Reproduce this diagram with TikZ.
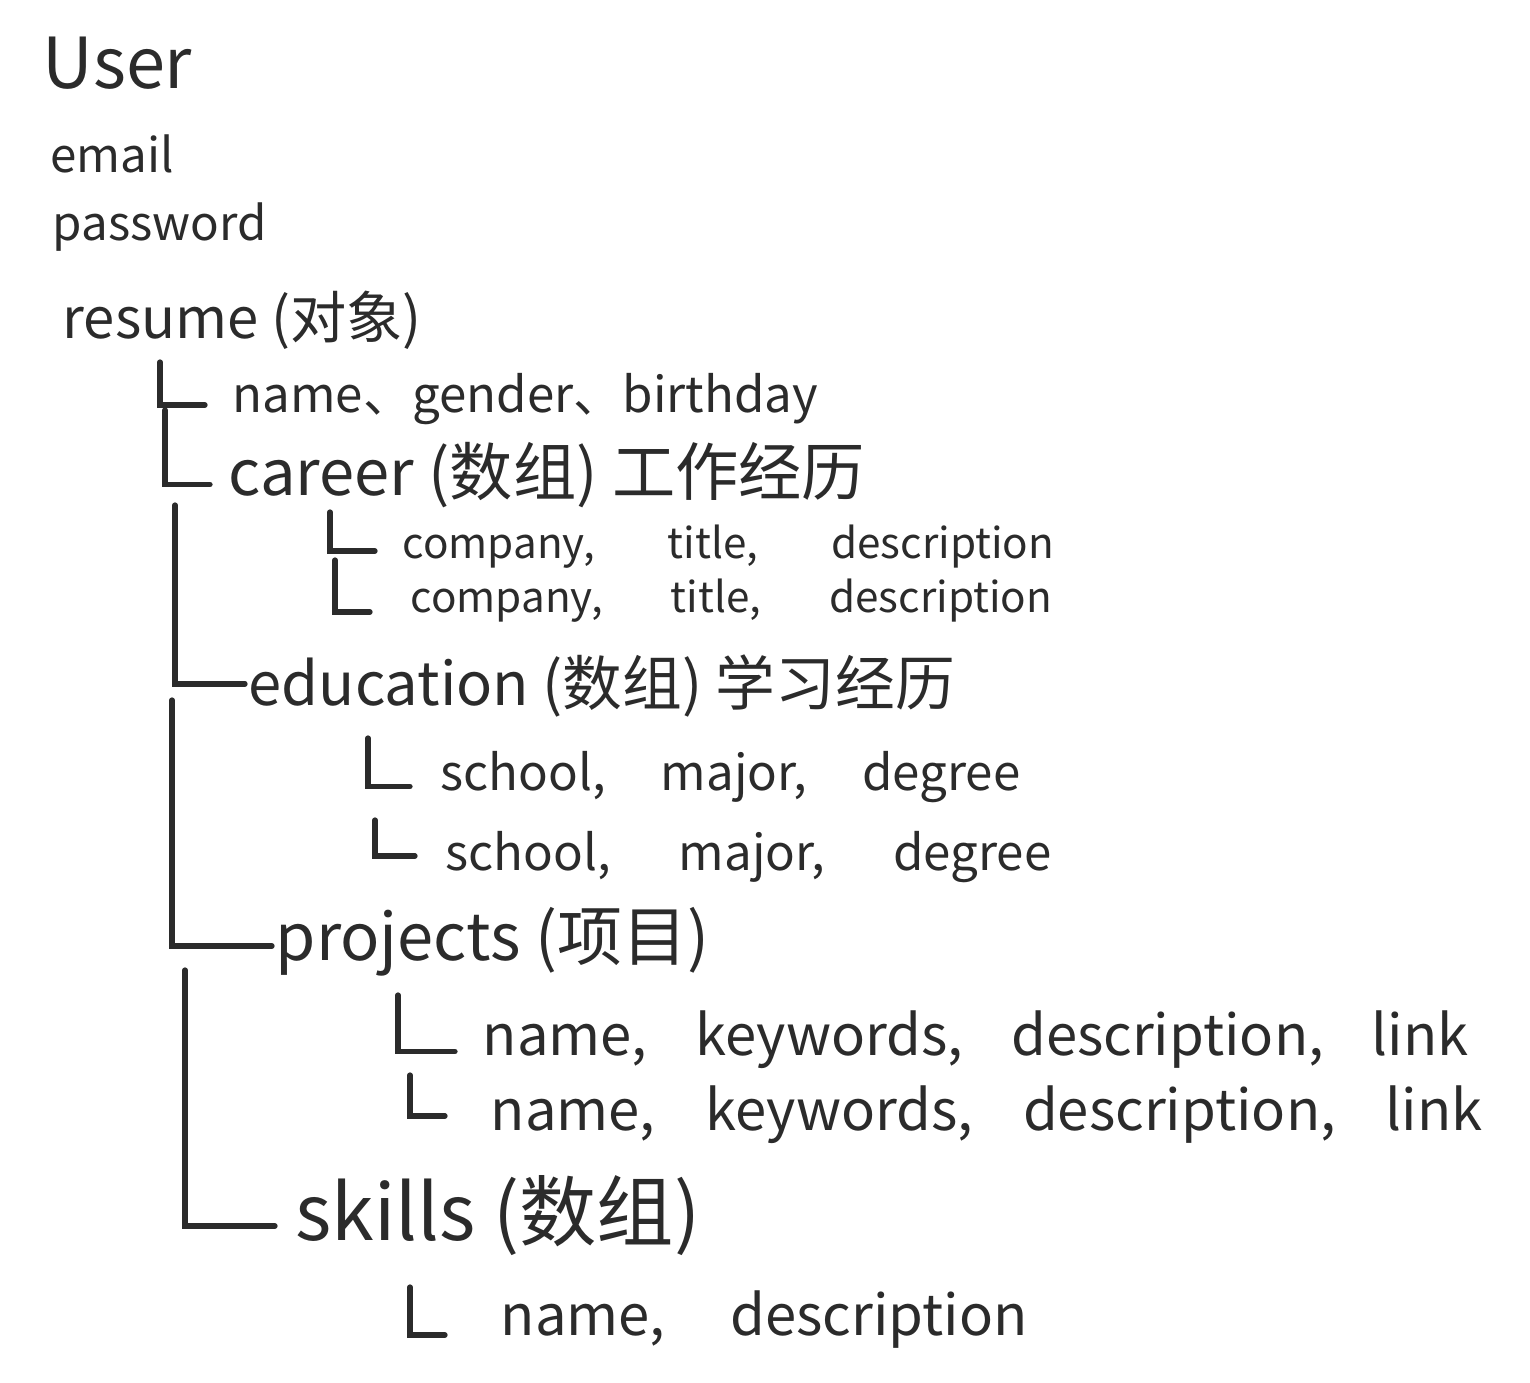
\documentclass[tikz,border=0pt]{standalone}
\usepackage{fontspec}
\setmainfont{Noto Sans CJK SC}
\definecolor{ink}{HTML}{2B2B2B}
\newcommand{\handsize}[1]{\fontsize{#1}{#1}\selectfont}
\newcommand{\fieldsep}[1]{,\hspace{#1}}

\begin{document}
\begin{tikzpicture}[
    field/.style={anchor=base west, inner sep=0pt, text=ink},
    branch/.style={draw=ink, line width=1.5pt, line cap=round}
  ]
  \useasboundingbox (0,0) rectangle (15.30,-13.82);

  % User document
  \node[field, font=\handsize{20}] (user) at (0.42,-0.88) {User};
  \node[field, font=\handsize{13.5}] (email) at (0.50,-1.72) {email};
  \node[field, font=\handsize{13.5}] (password) at (0.52,-2.40) {password};
  \node[field, font=\handsize{16}] (resume) at (0.62,-3.38) {resume (对象)};

  % resume fields
  \node[field, font=\handsize{14}] (basic) at (2.32,-4.12) {name、gender、birthday};
  \coordinate (basictop) at (1.60,-3.62);
  \draw[branch] (basictop) |- ([xshift=-0.27cm,yshift=2pt]basic.base west);

  \node[field, font=\handsize{18}] (career) at (2.28,-4.95) {career (数组) 工作经历};
  \coordinate (careertop) at (1.65,-4.10);
  \draw[branch] (careertop) |- ([xshift=-0.18cm,yshift=3pt]career.base west);

  % career entries
  \node[field, font=\handsize{12}] (job1) at (4.02,-5.58) {company\fieldsep{0.73cm}title\fieldsep{0.73cm}description};
  \node[field, font=\handsize{12}] (job2) at (4.10,-6.12) {company\fieldsep{0.68cm}title\fieldsep{0.68cm}description};
  \coordinate (job1top) at (3.30,-5.12);
  \coordinate (job2top) at (3.35,-5.60);
  \draw[branch] (job1top) |- ([xshift=-0.27cm,yshift=2pt]job1.base west);
  \draw[branch] (job2top) |- ([xshift=-0.40cm,yshift=0pt]job2.base west);

  % education
  \node[field, font=\handsize{17}] (education) at (2.48,-7.05) {education (数组) 学习经历};
  \coordinate (edutop) at (1.75,-5.05);
  \draw[branch] (edutop) |- ([xshift=-0.03cm,yshift=6pt]education.base west);

  \node[field, font=\handsize{14}] (school1) at (4.40,-7.90) {school\fieldsep{0.55cm}major\fieldsep{0.55cm}degree};
  \node[field, font=\handsize{14}] (school2) at (4.45,-8.70) {school\fieldsep{0.68cm}major\fieldsep{0.68cm}degree};
  \coordinate (school1top) at (3.68,-7.38);
  \coordinate (school2top) at (3.75,-8.20);
  \draw[branch] (school1top) |- ([xshift=-0.30cm,yshift=1pt]school1.base west);
  \draw[branch] (school2top) |- ([xshift=-0.30cm,yshift=4pt]school2.base west);

  % projects
  \node[field, font=\handsize{18.5}] (projects) at (2.75,-9.60) {projects (项目)};
  \coordinate (projtop) at (1.72,-7.00);
  \draw[branch] (projtop) |- ([xshift=-0.03cm,yshift=4pt]projects.base west);

  \node[field, font=\handsize{16}] (proj1) at (4.82,-10.55) {name\fieldsep{0.48cm}keywords\fieldsep{0.48cm}description\fieldsep{0.48cm}link};
  \node[field, font=\handsize{16}] (proj2) at (4.90,-11.30) {name\fieldsep{0.50cm}keywords\fieldsep{0.50cm}description\fieldsep{0.50cm}link};
  \coordinate (proj1top) at (3.98,-9.95);
  \coordinate (proj2top) at (4.10,-10.75);
  \draw[branch] (proj1top) |- ([xshift=-0.27cm,yshift=1pt]proj1.base west);
  \draw[branch] (proj2top) |- ([xshift=-0.45cm,yshift=4pt]proj2.base west);

  % skills
  \node[field, font=\handsize{22}] (skills) at (2.95,-12.40) {skills (数组)};
  \coordinate (skilltop) at (1.85,-9.70);
  \draw[branch] (skilltop) |- ([xshift=-0.20cm,yshift=4pt]skills.base west);

  \node[field, font=\handsize{16}] (skill1) at (5.00,-13.35) {name\fieldsep{0.65cm}description};
  \coordinate (skill1top) at (4.10,-12.87);
  \draw[branch] (skill1top) |- ([xshift=-0.55cm,yshift=0pt]skill1.base west);
\end{tikzpicture}
\end{document}
